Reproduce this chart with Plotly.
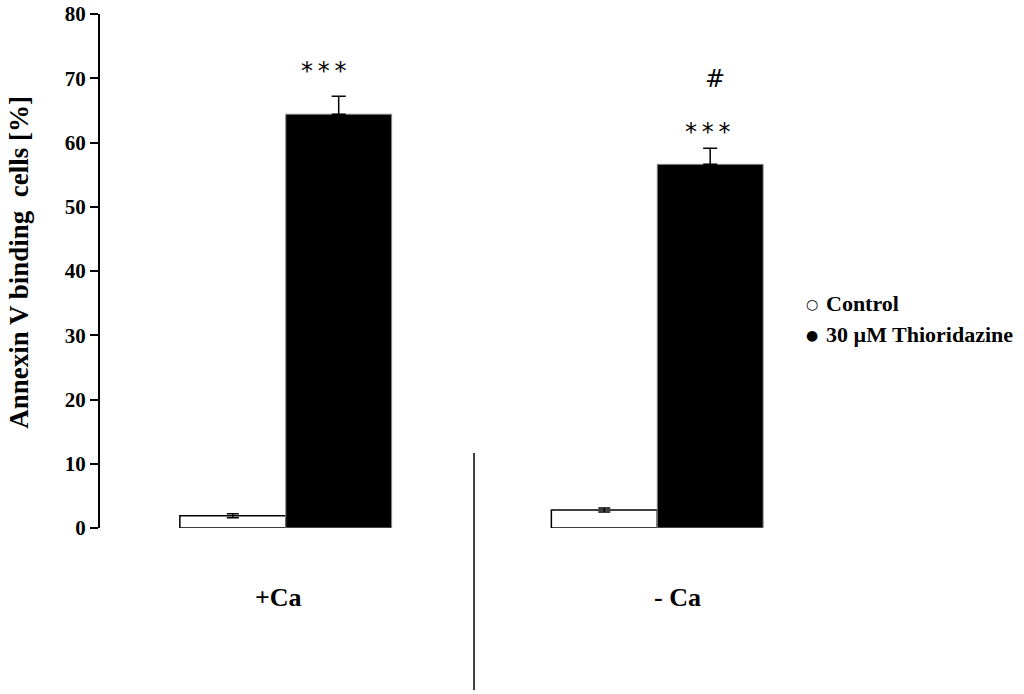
import plotly.graph_objects as go

# data
conditions = ["+Ca", "- Ca"]
control_mean = [1.9, 2.8]
control_err = [0.3, 0.3]
thio_mean = [64.4, 56.6]
thio_err = [2.8, 2.5]
series_names = ["Control", "30 µM Thioridazine"]
legend_symbols = ["\u25cb", "\u25cf"]
y_ticks = [0, 10, 20, 30, 40, 50, 60, 70, 80]
# (text, condition index, y value, x offset in px from group centre)
marks = [("*\u2009*\u2009*", 0, 71.2, 38), ("*\u2009*\u2009*", 1, 61.6, 51), ("#", 1, 69.9, 58)]

FONT = "Liberation Serif"

fig = go.Figure()
fig.add_trace(go.Bar(x=conditions, y=control_mean, name=series_names[0],
                     marker=dict(color="white", line=dict(color="black", width=1.5)),
                     error_y=dict(type="data", array=control_err, color="black",
                                  thickness=1.5, width=6)))
fig.add_trace(go.Bar(x=conditions, y=thio_mean, name=series_names[1],
                     marker=dict(color="black", line=dict(color="#888", width=1)),
                     error_y=dict(type="data", array=thio_err, arrayminus=[0, 0],
                                  color="black", thickness=1.5, width=7)))

annotations = []
for text, xi, yv, dx in marks:
    annotations.append(dict(x=conditions[xi], y=yv, xref="x", yref="y", text=text,
                            showarrow=False, xshift=dx, xanchor="center", yanchor="middle",
                            font=dict(family="DejaVu Sans", size=24, color="black")))
for cond, shift in zip(conditions, [-7, 20]):
    annotations.append(dict(x=cond, y=-0.136, xref="x", yref="paper", text="<b>%s</b>" % cond,
                            showarrow=False, xshift=shift, xanchor="center", yanchor="middle",
                            font=dict(family=FONT, size=26, color="black")))
# y axis title
annotations.append(dict(x=-0.109, y=0.516, xref="paper", yref="paper",
                        text="<b>Annexin V binding\u00a0 cells [%]</b>", textangle=-90,
                        showarrow=False, xanchor="center", yanchor="middle",
                        font=dict(family=FONT, size=27, color="black")))
# legend, drawn as text so it sits exactly where the original has it
for i, (sym, name) in enumerate(zip(legend_symbols, series_names)):
    ly = 0.436 - i * 0.0605
    annotations.append(dict(x=0.958, y=ly, xref="paper", yref="paper", text=sym,
                            showarrow=False, xanchor="center", yanchor="middle",
                            font=dict(family="DejaVu Sans", size=14, color="black")))
    annotations.append(dict(x=0.975, y=ly, xref="paper", yref="paper", text="<b>%s</b>" % name,
                            showarrow=False, xanchor="left", yanchor="middle",
                            font=dict(family=FONT, size=22, color="black")))

fig.update_layout(
    width=1024, height=694,
    margin=dict(l=100, r=181, t=14, b=166),
    paper_bgcolor="white", plot_bgcolor="white",
    barmode="group", bargap=0.43, bargroupgap=0,
    font=dict(family=FONT, color="black"),
    showlegend=False,
    annotations=annotations,
    shapes=[dict(type="line", xref="paper", yref="paper", x0=0.5034, x1=0.5034,
                 y0=0.146, y1=-0.315, line=dict(color="black", width=1.5))],
)
fig.update_xaxes(range=[-0.5, 1.5], showline=False, showticklabels=False,
                 ticks="", showgrid=False, zeroline=False, automargin=False)
fig.update_yaxes(range=[0, 80], tickvals=y_ticks, showline=True, linecolor="black",
                 linewidth=2, ticks="outside", ticklen=8, tickwidth=2, tickcolor="black",
                 showgrid=False, zeroline=False, automargin=False, ticklabeloverflow="allow",
                 tickfont=dict(family=FONT, size=21, color="black", weight="bold"))

# drop the browser's default 8px body margin so the figure fills the window
fig.write_html("out.html", config={"displayModeBar": False},
               post_script="document.body.style.margin='0';")
